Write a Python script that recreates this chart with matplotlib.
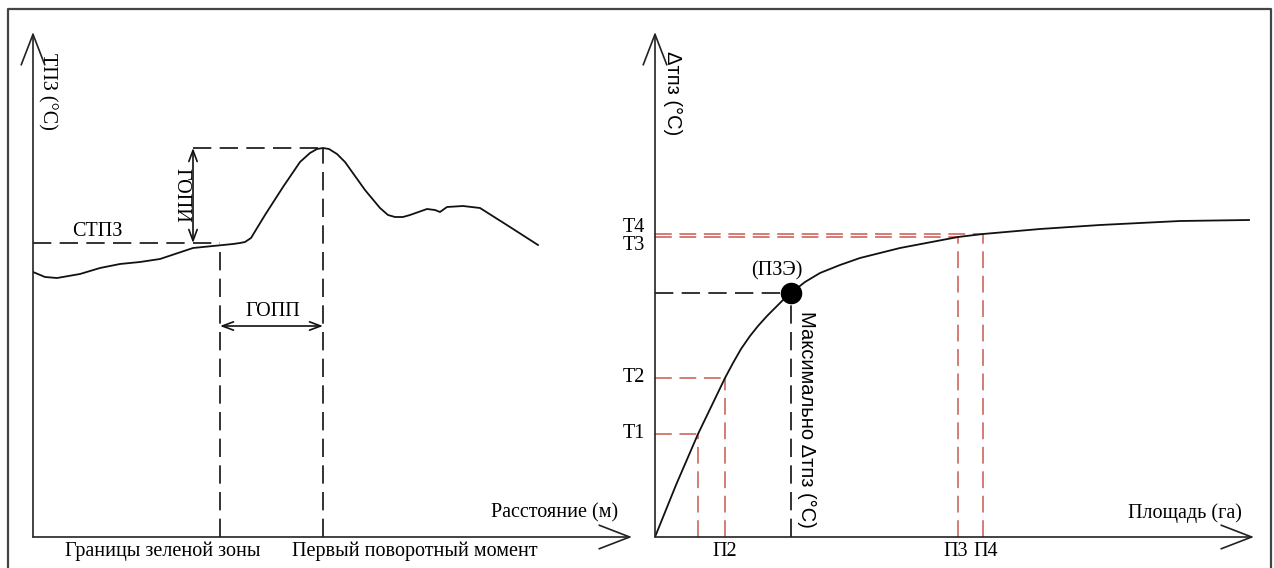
import matplotlib
matplotlib.use('Agg')
import matplotlib.pyplot as plt
from matplotlib.lines import Line2D

# Левая схема: профиль ТПЗ вдоль расстояния (условные единицы)
dist = [0, 12, 24, 47, 67, 87, 107, 127, 142, 160, 180, 200, 207, 212, 218, 232, 250,
        267, 277, 284, 290, 296, 304, 312, 332, 347, 355, 362, 370, 377, 394, 402, 407,
        414, 430, 447, 477, 505]
tpz = [265, 260, 259, 263, 269, 273, 275, 278, 283, 289, 291, 293, 294, 295, 299, 322, 350,
       375, 384, 388, 389, 388, 383, 375, 347, 329, 322, 320, 320, 322, 328, 327, 325,
       330, 331, 329, 310, 292]
stpz_level = 294
peak_x, peak_y = 290, 389
green_border_x = 187
gopi_x = 160
gopp_y = 211

# Правая схема: Δтпз от площади
area = [0, 21, 43, 57, 70, 78, 86, 95, 103, 112, 120, 128, 136, 150, 165, 185, 205, 245,
        303, 328, 385, 445, 525, 594]
dtpz = [0, 52, 103, 132, 159, 174, 188, 201, 211, 221, 229, 237, 244, 255, 264, 272, 279,
        289, 300, 303, 308, 312, 316, 317]
p_vals = [43, 70, 303, 328]
t_vals = [103, 159, 300, 303]
t_names = ['Т1', 'Т2', 'Т3', 'Т4']
p_names = ['П2', 'П3', 'П4']
p_label_x = [70, 301, 331]
pze_x, pze_y = 136, 244

W, H = 1274, 568
SERIF = 'Liberation Serif'
SANS = 'Liberation Sans'
RED = '#c85a50'
DASH = (0, (11, 5))

fig = plt.figure(figsize=(W / 100, H / 100), dpi=100)
axL = fig.add_axes([33 / W, (H - 537) / H, 600 / W, 505 / H])
axR = fig.add_axes([655 / W, (H - 537) / H, 600 / W, 505 / H])

arrow = dict(arrowstyle='->,head_length=2.2,head_width=0.85', lw=1.2, color='#222',
             shrinkA=0, shrinkB=0)
for ax in (axL, axR):
    ax.set_xlim(0, 600)
    ax.set_ylim(0, 505)
    ax.axis('off')
    ax.annotate('', xy=(0, 505), xytext=(0, 0), arrowprops=arrow, annotation_clip=False)
    ax.annotate('', xy=(599, 0), xytext=(0, 0), arrowprops=arrow, annotation_clip=False)

# --- левая часть ---
axL.plot(dist, tpz, color='#111', lw=1.3)
axL.plot([0, green_border_x], [stpz_level, stpz_level], color='#111', lw=1.2, ls=DASH)
axL.plot([gopi_x, peak_x], [peak_y, peak_y], color='#111', lw=1.2, ls=DASH)
axL.plot([green_border_x, green_border_x], [0, stpz_level - 3], color='#111', lw=1.2, ls=DASH)
axL.plot([peak_x, peak_x], [0, peak_y], color='#111', lw=1.2, ls=DASH)
dbl = dict(arrowstyle='<->,head_length=0.8,head_width=0.3', lw=1.2, color='#111',
           shrinkA=0, shrinkB=0)
axL.annotate('', xy=(gopi_x, peak_y), xytext=(gopi_x, stpz_level), arrowprops=dbl)
axL.annotate('', xy=(peak_x, gopp_y), xytext=(green_border_x, gopp_y), arrowprops=dbl)

fs = 14.5
axL.text(14, 446, 'ТПЗ (°C)', rotation=270, ha='center', va='center', family=SERIF, fontsize=fs)
axL.text(64, 305, 'СТПЗ', ha='center', va='center', family=SERIF, fontsize=fs)
axL.text(148, 342, 'ГОПИ', rotation=270, ha='center', va='center', family=SERIF, fontsize=fs)
axL.text(240, 225, 'ГОПП', ha='center', va='center', family=SERIF, fontsize=fs)
axL.text(585, 24, 'Расстояние (м)', ha='right', va='center', family=SERIF, fontsize=fs)
axL.text(130, -14, 'Границы зеленой зоны', ha='center', va='center', family=SERIF, fontsize=fs)
axL.text(382, -14, 'Первый поворотный момент', ha='center', va='center', family=SERIF, fontsize=fs)

# --- правая часть ---
for p, t in zip(p_vals, t_vals):
    axR.plot([0, p], [t, t], color=RED, lw=1.1, ls=DASH)
    axR.plot([p, p], [0, t], color=RED, lw=1.1, ls=DASH)
axR.plot([0, pze_x], [pze_y, pze_y], color='#111', lw=1.2, ls=DASH)
axR.plot([pze_x, pze_x], [0, pze_y], color='#111', lw=1.2, ls=DASH)
axR.plot(area, dtpz, color='#111', lw=1.3)
axR.scatter([pze_x], [pze_y], s=210, color='black', zorder=5)

axR.text(18, 444, 'Δтпз (°C)', rotation=270, ha='center', va='center', family=SANS, fontsize=fs)
t_label_y = [104, 159, 291, 309]
for name, ty in zip(t_names, t_label_y):
    axR.text(-21, ty, name, ha='center', va='center', family=SERIF, fontsize=fs)
for name, px in zip(p_names, p_label_x):
    axR.text(px, -14, name, ha='center', va='center', family=SERIF, fontsize=fs)
axR.text(122, 266, '(ПЗЭ)', ha='center', va='center', family=SERIF, fontsize=fs)
axR.text(152, 118, 'Максимально Δтпз (°C)', rotation=270, ha='center', va='center',
         family=SANS, fontsize=fs)
axR.text(587, 24, 'Площадь (га)', ha='right', va='center', family=SERIF, fontsize=fs)

# рамка
fig.add_artist(Line2D([8 / W, 8 / W, 1271 / W, 1271 / W], [0, (H - 9) / H, (H - 9) / H, 0],
                      transform=fig.transFigure, color='#444', lw=1.6))

fig.savefig('out.png', dpi=100)
